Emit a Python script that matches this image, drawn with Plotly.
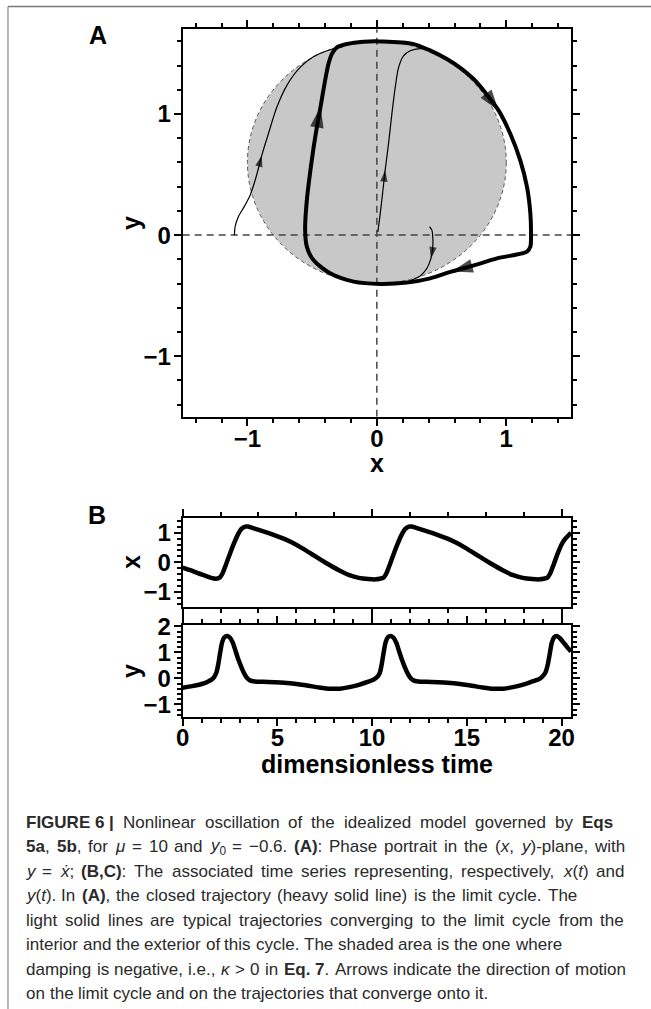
import plotly.graph_objects as go

W, H = 651, 1009

# ---------------- data ----------------
# Limit cycle in the (x, y) phase plane (clockwise motion)
cycle_x = [-0.309, -0.232, -0.103, 0.026, 0.284, 0.541, 0.747, 0.85, 0.94, 1.031, 1.108, 1.160,
           1.186, 1.191, 1.186, 1.160, 0.928, 0.75, 0.58, 0.412, 0.232, 0.026, -0.180, -0.361,
           -0.490, -0.541, -0.554, -0.541, -0.503, -0.47, -0.435, -0.40, -0.374, -0.348, -0.309]
cycle_y = [1.55, 1.578, 1.597, 1.60, 1.578, 1.454, 1.289, 1.16, 1.03, 0.837, 0.617, 0.398,
           0.178, 0.014, -0.096, -0.137, -0.192, -0.25, -0.30, -0.357, -0.392, -0.403, -0.384, -0.316,
           -0.206, -0.096, 0.041, 0.288, 0.617, 0.85, 1.06, 1.276, 1.413, 1.495, 1.55]
cycle_arrow_idx = [8, 18, 30]

# Trajectory approaching from the exterior
outer_x = [-1.10, -1.095, -1.07, -1.026, -0.979, -0.933, -0.889, -0.838, -0.773, -0.696, -0.593,
           -0.49, -0.361, -0.258]
outer_y = [0.0, 0.069, 0.151, 0.233, 0.329, 0.48, 0.658, 0.837, 1.056, 1.235, 1.385,
           1.473, 1.531, 1.558]
outer_arrow_idx = [6]

# Trajectory approaching from the interior
inner_x = [0.008, 0.026, 0.045, 0.064, 0.09, 0.116, 0.142, 0.168, 0.206, 0.258, 0.335, 0.39]
inner_y = [0.027, 0.178, 0.35, 0.535, 0.754, 1.0, 1.22, 1.385, 1.481, 1.523, 1.54, 1.535]
inner_arrow_idx = [3]

# Short trajectory joining the lower branch
hook_x = [0.407, 0.425, 0.433, 0.43, 0.418, 0.387, 0.335, 0.27]
hook_y = [0.069, 0.041, -0.041, -0.123, -0.192, -0.274, -0.337, -0.37]
hook_arrow_idx = [4]

# Region of negative damping (kappa > 0): disc of radius 1 centred at (0, 0.6)
kappa_cx, kappa_cy, kappa_r = 0.0, 0.6, 1.0

# Time series x(t)
t_x = [0.0, 0.4, 0.8, 1.2, 1.5, 1.75, 1.95, 2.1, 2.3, 2.5, 2.7, 2.9, 3.1, 3.3, 3.45, 3.8, 4.3,
       4.8, 5.3, 5.8, 6.3, 6.8, 7.3, 7.8, 8.3, 8.8, 9.3, 9.8, 10.2, 10.4, 10.6, 10.75, 10.95,
       11.15, 11.35, 11.55, 11.75, 11.95, 12.1, 12.45, 12.95, 13.45, 13.95, 14.45, 14.95,
       15.45, 15.95, 16.45, 16.95, 17.45, 17.95, 18.45, 18.85, 19.05, 19.25, 19.4, 19.6,
       19.8, 20.0, 20.2, 20.5]
x_t = [-0.18, -0.27, -0.37, -0.46, -0.53, -0.56, -0.52, -0.38, -0.05, 0.30, 0.63, 0.92, 1.13,
       1.21, 1.21, 1.14, 1.04, 0.93, 0.81, 0.66, 0.48, 0.28, 0.08, -0.11, -0.29, -0.44, -0.53,
       -0.57, -0.58, -0.56, -0.52, -0.38, -0.05, 0.30, 0.63, 0.92, 1.13, 1.21, 1.21, 1.14,
       1.04, 0.93, 0.81, 0.66, 0.48, 0.28, 0.08, -0.11, -0.29, -0.44, -0.53, -0.57, -0.58,
       -0.56, -0.52, -0.38, -0.05, 0.30, 0.60, 0.80, 1.0]

# Time series y(t)
t_y = [0.0, 0.5, 1.0, 1.3, 1.5, 1.65, 1.78, 1.88, 1.98, 2.08, 2.2, 2.35, 2.5, 2.65, 2.8, 2.95,
       3.1, 3.25, 3.4, 3.55, 3.8, 4.5, 5.5, 6.5, 7.2, 7.8, 8.3, 8.8, 9.3, 9.8, 10.1, 10.28,
       10.41, 10.51, 10.61, 10.71, 10.83, 10.98, 11.13, 11.28, 11.43, 11.58, 11.73, 11.88,
       12.03, 12.18, 12.43, 13.13, 14.13, 15.13, 15.83, 16.43, 16.93, 17.43, 17.93, 18.43,
       18.8, 18.98, 19.15, 19.28, 19.38, 19.48, 19.6, 19.75, 19.9, 20.1, 20.3, 20.5]
y_t = [-0.36, -0.30, -0.22, -0.14, -0.06, 0.04, 0.22, 0.55, 1.0, 1.38, 1.58, 1.63, 1.56, 1.36,
       1.03, 0.70, 0.42, 0.18, 0.01, -0.08, -0.12, -0.14, -0.18, -0.27, -0.35, -0.40, -0.40,
       -0.34, -0.25, -0.13, -0.04, 0.06, 0.22, 0.55, 1.0, 1.38, 1.58, 1.63, 1.56, 1.36, 1.03,
       0.70, 0.42, 0.18, 0.01, -0.08, -0.12, -0.14, -0.18, -0.27, -0.35, -0.40, -0.40, -0.34,
       -0.25, -0.13, -0.04, 0.06, 0.22, 0.55, 0.95, 1.35, 1.57, 1.63, 1.55, 1.38, 1.2, 1.03]

NB = "\u00a0"
caption_lines = [
    f"<b>FIGURE{NB}6{NB}|</b> Nonlinear oscillation of the idealized model governed by <b>Eqs</b>",
    "<b>5a</b>, <b>5b</b>, for <i>μ</i> = 10 and <i>y</i><sub>0</sub> = −0.6. <b>(A)</b>: Phase portrait in the (<i>x</i>, <i>y</i>)-plane, with",
    "<i>y</i> = <i>ẋ</i>; <b>(B,C)</b>: The associated time series representing, respectively, <i>x</i>(<i>t</i>) and",
    "<i>y</i>(<i>t</i>). In <b>(A)</b>, the closed trajectory (heavy solid line) is the limit cycle. The",
    "light solid lines are typical trajectories converging to the limit cycle from the",
    "interior and the exterior of this cycle. The shaded area is the one where",
    "damping is negative, i.e., <i>κ</i> &gt; 0 in <b>Eq.</b> <b>7</b>. Arrows indicate the direction of motion",
    "on the limit cycle and on the trajectories that converge onto it.",
]

# ---------------- helpers ----------------
FONT = "Liberation Sans"


def px(xp):
    return xp / W


def py(yp):
    return 1 - yp / H


# Advance widths (1/1000 em) of Liberation Sans, regular/italic and bold
_REG = {" ": 278, NB: 278, "(": 333, ")": 333, ",": 278, "-": 333, ".": 278, ":": 278,
        ";": 278, "=": 584, ">": 584, "|": 260, "−": 584, "μ": 576, "κ": 500, "ẋ": 500}
_REG.update({d: 556 for d in "0123456789"})
_REG.update(dict(A=667, B=667, C=722, D=722, E=667, F=611, G=778, H=722, I=278, J=500, K=667,
                 L=556, M=833, N=722, O=778, P=667, Q=778, R=722, S=667, T=611, U=722, V=667,
                 W=944, X=667, Y=667, Z=611))
_REG.update(dict(a=556, b=556, c=500, d=556, e=556, f=278, g=556, h=556, i=222, j=222, k=500,
                 l=222, m=833, n=556, o=556, p=556, q=556, r=333, s=500, t=278, u=556, v=500,
                 w=722, x=500, y=500, z=500))
_BOLD = dict(_REG)
_BOLD.update({":": 333, ";": 333, "|": 280, "A": 722, "B": 722})
_BOLD.update(dict(a=556, b=611, c=556, d=611, e=556, f=333, g=611, h=611, i=278, j=278, k=556,
                  l=278, m=889, n=611, o=611, p=611, q=611, r=389, s=556, t=333, u=611, v=556,
                  w=778, x=556, y=556, z=500))


def text_width(s, size):
    bold = sub = False
    w, i = 0.0, 0
    tags = {"<b>": ("b", True), "</b>": ("b", False), "<sub>": ("s", True),
            "</sub>": ("s", False), "<i>": (None, None), "</i>": (None, None)}
    while i < len(s):
        hit = next((t for t in tags if s.startswith(t, i)), None)
        if hit:
            kind, val = tags[hit]
            if kind == "b":
                bold = val
            elif kind == "s":
                sub = val
            i += len(hit)
            continue
        if s.startswith("&gt;", i):
            c, i = ">", i + 4
        else:
            c, i = s[i], i + 1
        w += (_BOLD if bold else _REG).get(c, 556) * (0.7 if sub else 1.0)
    return w * size / 1000.0


def arrow_sizes(n, idx, size):
    return [size if i in idx else 0 for i in range(n)]


def traj(xs, ys, width, idx, size, xa="x", ya="y"):
    return go.Scatter(
        x=xs, y=ys, xaxis=xa, yaxis=ya, mode="lines+markers",
        line=dict(color="black", width=width, shape="spline", smoothing=0.8),
        marker=dict(symbol="arrow", size=arrow_sizes(len(xs), idx, size),
                    angleref="previous", color="black", line=dict(width=0)),
        hoverinfo="skip", showlegend=False,
    )


fig = go.Figure()
fig.add_trace(traj(outer_x, outer_y, 1.2, outer_arrow_idx, 12))
fig.add_trace(traj(inner_x, inner_y, 1.2, inner_arrow_idx, 12))
fig.add_trace(traj(hook_x, hook_y, 1.2, hook_arrow_idx, 12))
fig.add_trace(traj(cycle_x, cycle_y, 4, cycle_arrow_idx, 22))

fig.add_trace(go.Scatter(x=t_x, y=x_t, xaxis="x2", yaxis="y2", mode="lines",
                         line=dict(color="black", width=4.5, shape="spline", smoothing=0.6),
                         hoverinfo="skip", showlegend=False))
fig.add_trace(go.Scatter(x=t_y, y=y_t, xaxis="x3", yaxis="y3", mode="lines",
                         line=dict(color="black", width=4.5, shape="spline", smoothing=0.6),
                         hoverinfo="skip", showlegend=False))

tickfont = dict(family=FONT, size=24, color="black", weight="bold")


def axis(domain, rng, dtick, minor_dtick, anchor, labels=True, ticklen=7, minorlen=4,
         standoff=-9):
    return dict(
        domain=domain, range=rng, anchor=anchor, tick0=0, dtick=dtick,
        automargin=False,
        ticks="outside", ticklen=ticklen, tickwidth=2, tickcolor="black",
        showline=True, linewidth=2, linecolor="black", mirror="ticks",
        showgrid=False, zeroline=False, showticklabels=labels, tickfont=tickfont,
        ticklabelstandoff=standoff,
        minor=dict(dtick=minor_dtick, tick0=0, ticks="outside", ticklen=minorlen,
                   tickwidth=1.5, tickcolor="black", showgrid=False),
    )


# Panel geometry (pixels)
XL, XR = 182.7, 571.0
A_T, A_B = 29.3, 416.7
B_T, B_B = 518.0, 606.5
C_T, C_B = 625.0, 717.3

fig.update_layout(
    width=W, height=H, margin=dict(l=0, r=0, t=0, b=0, pad=0), autosize=False,
    paper_bgcolor="white", plot_bgcolor="white",
    xaxis=axis([px(XL), px(XR)], [-1.5, 1.5], 1, 0.2, "y", standoff=-8),
    yaxis=axis([py(A_B), py(A_T)], [-1.5, 1.7], 1, 0.2, "x", standoff=-2),
    xaxis2=axis([px(XL), px(XR)], [0, 20.5], 10, 2, "y2", labels=False),
    yaxis2=axis([py(B_B), py(B_T)], [-1.5, 1.5], 1, 0.2, "x2", standoff=-2),
    xaxis3=axis([px(XL), px(XR)], [0, 20.5], 5, 1, "y3"),
    yaxis3=axis([py(C_B), py(C_T)], [-1.5, 2.05], 1, 0.2, "x3", standoff=-2),
)

shapes = [
    # shaded negative-damping disc
    dict(type="circle", xref="x", yref="y", layer="below",
         x0=kappa_cx - kappa_r, x1=kappa_cx + kappa_r,
         y0=kappa_cy - kappa_r, y1=kappa_cy + kappa_r,
         fillcolor="#c8c8c8", line=dict(color="#555555", width=1, dash="4px,3px")),
    # dashed coordinate axes
    dict(type="line", xref="x", yref="y", layer="below", x0=-1.5, x1=1.5, y0=0, y1=0,
         line=dict(color="#444444", width=1.5, dash="7px,5px")),
    dict(type="line", xref="x", yref="y", layer="below", x0=0, x1=0, y0=-1.5, y1=1.7,
         line=dict(color="#444444", width=1.5, dash="7px,5px")),
    # page frame
    dict(type="line", xref="paper", yref="paper", x0=px(8), x1=1, y0=py(6.5), y1=py(6.5),
         line=dict(color="#777777", width=1.5)),
    dict(type="line", xref="paper", yref="paper", x0=px(8), x1=px(8), y0=py(6.5), y1=0,
         line=dict(color="#888888", width=1.2)),
]
fig.update_layout(shapes=shapes)

labfont = dict(family=FONT, size=25, color="black", weight="bold")
ann = [
    dict(text="A", x=px(98), y=py(35), font=dict(family=FONT, size=25, color="black", weight="bold")),
    dict(text="B", x=px(97), y=py(515), font=dict(family=FONT, size=25, color="black", weight="bold")),
    dict(text="x", x=px(376.7), y=py(463), font=labfont),
    dict(text="y", x=px(131), y=py(223), font=labfont, textangle=-90),
    dict(text="x", x=px(131), y=py(562), font=labfont, textangle=-90),
    dict(text="y", x=px(131), y=py(671), font=labfont, textangle=-90),
    dict(text="dimensionless time", x=px(376.7), y=py(764), font=labfont),
]
for a in ann:
    a.update(xref="paper", yref="paper", showarrow=False, xanchor="center", yanchor="middle")

# Caption: word-by-word placement so each line spans its measure
CAP_SIZE = 17
CAP_LEFT = 25
CAP_TOP, CAP_LEAD = 822, 24.5
cap_right = [612, 623, 623, 576, 623, 558, 625, None]
cap_font = dict(family=FONT, size=CAP_SIZE, color="#2a2a2a")
space_w = _REG[" "] * CAP_SIZE / 1000.0
for k, (line, right) in enumerate(zip(caption_lines, cap_right)):
    words = line.split(" ")
    widths = [text_width(wd, CAP_SIZE) for wd in words]
    gap = space_w
    if right is not None and len(words) > 1:
        gap = max((right - CAP_LEFT - sum(widths)) / (len(words) - 1), space_w)
    xpos = CAP_LEFT
    for wd, wdw in zip(words, widths):
        ann.append(dict(text=wd, x=px(xpos), y=py(CAP_TOP + k * CAP_LEAD), xref="paper",
                        yref="paper", showarrow=False, xanchor="left", yanchor="middle",
                        font=cap_font, borderpad=0))
        xpos += wdw + gap
fig.update_layout(annotations=ann)

fig.write_html("out.html")
